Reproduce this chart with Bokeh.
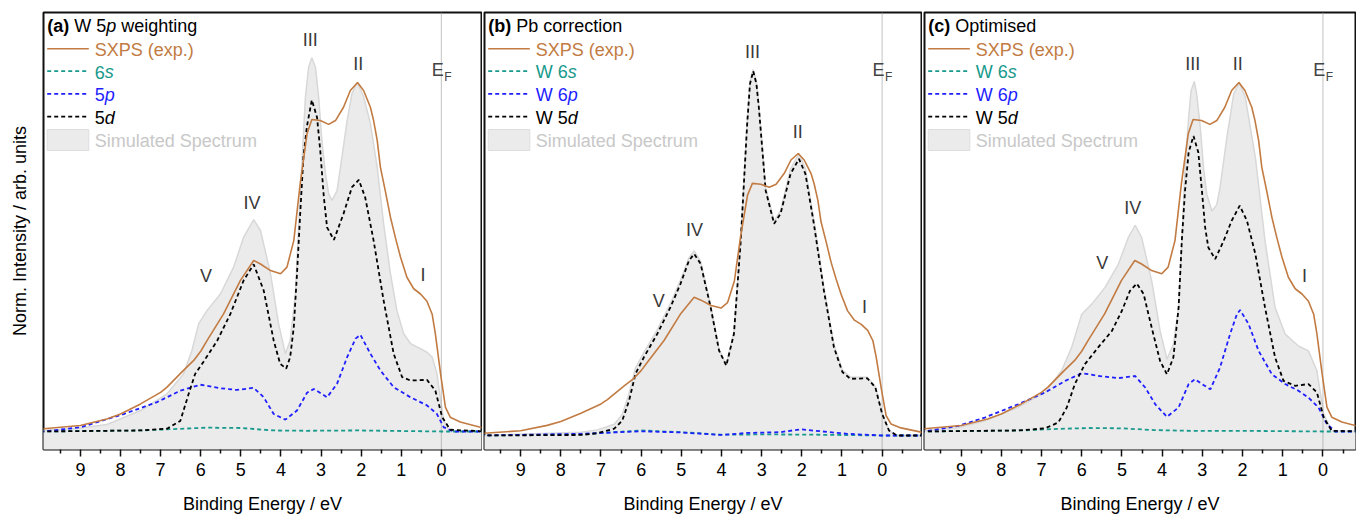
from bokeh.plotting import figure
from bokeh.models import Range1d, FixedTicker
from bokeh.layouts import row
from bokeh.core.properties import value
from bokeh.embed import file_html
from bokeh.resources import INLINE

# ---------------- data (binding energy in eV, normalised intensity) ----------------
sxps_E = [10.0, 9.92, 9.0, 8.34, 8.0, 7.5, 7.0, 6.84, 6.43, 6.18, 6.0, 5.84, 5.43, 5.01, 4.68, 4.51, 4.26, 4.01, 3.85, 3.68,
          3.52, 3.35, 3.23, 3.02, 2.81, 2.64, 2.44, 2.27, 2.09, 1.94, 1.77, 1.69, 1.60, 1.52, 1.40, 1.27, 1.15, 1.02, 0.86, 0.69,
          0.52, 0.36, 0.23, 0.15, 0.02, -0.1, -0.22, -0.47, -0.97, -1.1]
sxps_I = [0.007, 0.008, 0.017, 0.036, 0.05, 0.079, 0.112, 0.127, 0.175, 0.203, 0.23, 0.261, 0.337, 0.433, 0.49, 0.48, 0.461, 0.452, 0.471, 0.547,
          0.71, 0.853, 0.894, 0.891, 0.88, 0.891, 0.929, 0.977, 1.0, 0.977, 0.929, 0.891, 0.834, 0.757, 0.69, 0.614, 0.557, 0.5, 0.442, 0.409,
          0.394, 0.373, 0.336, 0.28, 0.165, 0.07, 0.041, 0.027, 0.012, 0.01]

# (a) W 5p weighting
a_sim_E = [10.0, 9.92, 9.0, 8.34, 7.5, 6.84, 6.43, 6.22, 6.05, 5.84, 5.51, 5.18, 4.93, 4.68, 4.51, 4.26, 4.06, 3.89, 3.77, 3.64,
           3.56, 3.47, 3.39, 3.31, 3.23, 3.14, 3.06, 2.98, 2.89, 2.81, 2.73, 2.60, 2.48, 2.35, 2.23, 2.10, 1.94, 1.77, 1.60, 1.44,
           1.27, 1.11, 0.94, 0.77, 0.52, 0.36, 0.23, 0.11, 0.02, -0.06, -0.18, -0.3, -1.1]
a_sim_I = [0.002, 0.003, 0.01, 0.02, 0.06, 0.108, 0.165, 0.232, 0.309, 0.347, 0.394, 0.471, 0.557, 0.607, 0.576, 0.452, 0.309, 0.223, 0.261, 0.394,
           0.585, 0.786, 0.958, 1.044, 1.071, 1.044, 0.958, 0.834, 0.738, 0.681, 0.662, 0.69, 0.786, 0.891, 0.968, 1.0, 0.96, 0.882, 0.757, 0.595,
           0.452, 0.347, 0.28, 0.252, 0.237, 0.227, 0.213, 0.165, 0.089, 0.031, 0.005, 0.0, 0.0]
a_d_E = [10.0, 7.5, 6.84, 6.51, 6.30, 6.14, 5.93, 5.59, 5.26, 4.93, 4.68, 4.43, 4.18, 4.02, 3.87, 3.77, 3.68, 3.60, 3.52, 3.44,
         3.35, 3.23, 3.10, 3.02, 2.93, 2.85, 2.68, 2.44, 2.23, 2.06, 1.90, 1.69, 1.44, 1.19, 0.98, 0.77, 0.36, 0.15, -0.02, -0.22, -1.1]
a_d_I = [0.0, 0.003, 0.008, 0.03, 0.108, 0.165, 0.2, 0.26, 0.337, 0.433, 0.479, 0.404, 0.26, 0.194, 0.18, 0.213, 0.299, 0.452, 0.624, 0.786,
         0.876, 0.95, 0.90, 0.805, 0.671, 0.585, 0.549, 0.624, 0.70, 0.721, 0.671, 0.547, 0.375, 0.223, 0.156, 0.146, 0.148, 0.117, 0.041, 0.005, 0.0]
a_p_E = [10.0, 9.92, 9.0, 7.92, 7.09, 6.51, 6.01, 5.51, 5.10, 4.68, 4.43, 4.18, 3.89, 3.60, 3.35, 3.18, 2.85, 2.60, 2.35, 2.14,
         2.02, 1.77, 1.52, 1.19, 0.77, 0.36, 0.11, -0.06, -0.31, -1.1]
a_p_I = [0.0, 0.0, 0.012, 0.05, 0.084, 0.117, 0.134, 0.124, 0.119, 0.125, 0.098, 0.05, 0.034, 0.06, 0.111, 0.122, 0.098, 0.137, 0.213, 0.266,
         0.277, 0.223, 0.175, 0.127, 0.098, 0.075, 0.05, 0.012, 0.0, 0.0]
a_s_E = [10.0, 7.5, 6.67, 5.84, 5.01, 4.18, 3.35, 2.1, 0.0, -1.1]
a_s_I = [0.0, 0.003, 0.007, 0.011, 0.01, 0.003, 0.002, 0.003, 0.0, 0.0]

# (b) Pb correction
b_grid = [10.0, 7.5, 7.09, 6.67, 6.47, 6.30, 6.14, 5.93, 5.60, 5.27, 5.02, 4.81, 4.68, 4.52, 4.27, 4.06, 3.88, 3.69, 3.52, 3.36,
          3.29, 3.21, 3.13, 3.07, 2.90, 2.69, 2.53, 2.28, 2.07, 1.91, 1.70, 1.45, 1.20, 0.99, 0.79, 0.37, 0.17, 0.0, -0.17, -0.37, -1.1]
b_sim_I = [0.0, 0.012, 0.02, 0.04, 0.075, 0.15, 0.24, 0.295, 0.375, 0.468, 0.55, 0.63, 0.655, 0.618, 0.462, 0.305, 0.252, 0.366, 0.698, 1.112,
           1.255, 1.298, 1.255, 1.172, 0.878, 0.76, 0.797, 0.945, 1.0, 0.945, 0.765, 0.525, 0.322, 0.232, 0.207, 0.207, 0.174, 0.078, 0.018, 0.0, 0.0]
b_d_I = [0.0, 0.002, 0.008, 0.024, 0.053, 0.124, 0.219, 0.278, 0.36, 0.455, 0.538, 0.62, 0.644, 0.609, 0.455, 0.301, 0.248, 0.36, 0.691, 1.105,
         1.247, 1.292, 1.247, 1.164, 0.869, 0.751, 0.786, 0.928, 0.981, 0.928, 0.751, 0.514, 0.313, 0.225, 0.201, 0.203, 0.171, 0.077, 0.018, 0.0, 0.0]
b_p_E = [10.0, 7.5, 6.01, 5.02, 4.02, 3.36, 2.53, 2.03, 1.53, 0.87, 0.0, -1.1]
b_p_I = [0.0, 0.006, 0.015, 0.011, 0.002, 0.009, 0.012, 0.022, 0.015, 0.006, 0.0, 0.0]
b_s_E = [10.0, 7.5, 6.01, 5.02, 4.02, 2.9, 1.7, 0.0, -1.1]
b_s_I = [0.0, 0.004, 0.018, 0.012, 0.003, 0.004, 0.003, 0.0, 0.0]

# (c) Optimised
c_sim_E = [10.0, 9.9, 9.07, 8.41, 7.58, 6.91, 6.50, 6.25, 6.0, 5.75, 5.42, 5.09, 4.84, 4.67, 4.51, 4.26, 4.05, 3.88, 3.72, 3.59,
           3.51, 3.43, 3.34, 3.28, 3.20, 3.14, 3.05, 2.97, 2.89, 2.76, 2.64, 2.56, 2.39, 2.22, 2.08, 1.93, 1.68, 1.44, 1.19, 0.94,
           0.61, 0.36, 0.15, -0.02, -0.22, -1.1]
c_sim_I = [0.002, 0.002, 0.011, 0.031, 0.069, 0.112, 0.174, 0.241, 0.336, 0.365, 0.413, 0.479, 0.556, 0.591, 0.556, 0.432, 0.288, 0.207, 0.25, 0.355,
           0.546, 0.756, 0.9, 0.976, 1.003, 0.967, 0.871, 0.756, 0.68, 0.632, 0.65, 0.699, 0.842, 0.967, 1.0, 0.957, 0.785, 0.546, 0.355, 0.279,
           0.245, 0.231, 0.174, 0.05, 0.002, 0.0]
c_d_E = [10.0, 7.58, 6.91, 6.58, 6.37, 6.17, 5.92, 5.59, 5.25, 5.0, 4.80, 4.63, 4.46, 4.26, 4.05, 3.88, 3.72, 3.59, 3.51, 3.43,
         3.34, 3.22, 3.10, 3.01, 2.93, 2.85, 2.68, 2.47, 2.27, 2.07, 1.89, 1.68, 1.44, 1.19, 0.98, 0.69, 0.36, 0.15, -0.02, -0.22, -1.1]
c_d_I = [0.0, 0.003, 0.009, 0.026, 0.069, 0.136, 0.193, 0.241, 0.288, 0.346, 0.403, 0.424, 0.394, 0.298, 0.202, 0.164, 0.212, 0.355, 0.546, 0.69,
         0.80, 0.847, 0.80, 0.69, 0.585, 0.527, 0.494, 0.546, 0.604, 0.647, 0.604, 0.508, 0.355, 0.212, 0.145, 0.131, 0.136, 0.112, 0.04, 0.002, 0.0]
c_p_E = [10.0, 9.9, 9.07, 8.41, 7.58, 6.91, 6.41, 6.0, 5.50, 5.09, 4.67, 4.42, 4.17, 3.88, 3.59, 3.34, 3.18, 3.01, 2.80, 2.56,
         2.31, 2.14, 2.06, 1.85, 1.60, 1.27, 0.94, 0.61, 0.36, 0.11, -0.10, -0.31, -1.1]
c_p_I = [0.0, 0.0, 0.016, 0.04, 0.078, 0.112, 0.145, 0.167, 0.158, 0.153, 0.159, 0.126, 0.078, 0.042, 0.069, 0.136, 0.15, 0.136, 0.121, 0.183,
         0.279, 0.336, 0.348, 0.308, 0.231, 0.164, 0.136, 0.117, 0.097, 0.069, 0.021, 0.0, 0.0]
c_s_E = [10.0, 7.5, 6.7, 5.8, 5.0, 4.2, 3.3, 2.1, 0.0, -1.1]
c_s_I = [0.0, 0.003, 0.007, 0.01, 0.009, 0.004, 0.002, 0.002, 0.0, 0.0]

# peak labels (text, energy, intensity)
peak_text = ["III", "II", "IV", "V", "I"]
a_peak_E = [3.27, 2.07, 4.72, 5.87, 0.46]
a_peak_I = [1.122, 1.053, 0.654, 0.445, 0.447]
b_peak_E = [3.23, 2.10, 4.67, 5.56, 0.44]
b_peak_I = [1.359, 1.076, 0.729, 0.476, 0.455]
c_peak_E = [3.24, 2.12, 4.73, 5.49, 0.46]
c_peak_I = [1.054, 1.053, 0.639, 0.484, 0.446]

major_ticks = [0, 1, 2, 3, 4, 5, 6, 7, 8, 9]
minor_ticks = [-0.5, 0.5, 1.5, 2.5, 3.5, 4.5, 5.5, 6.5, 7.5, 8.5, 9.5]

# ---------------- style ----------------
FONT = "Liberation Sans"
FS = 18
ORANGE = "#c27b42"
TEAL = "#17998c"
BLUE = "#1f1fff"
BLACK = "#000000"
SIM_FILL = "#ebebeb"
SIM_LINE = "#d8d8d8"
SIM_TEXT = "#c8c8c8"
LABEL_C = "#383838"
FH = 437
DASH = "4 3"
LW = 1.8
PAGE = 8  # page margin compensation

AW = {' ': 278, '(': 333, ')': 333, '.': 278, '/': 278, 'a': 556, 'b': 556, 'c': 500, 'd': 556, 'e': 556, 'g': 556,
      'h': 556, 'i': 222, 'l': 222, 'm': 833, 'n': 556, 'o': 556, 'p': 556, 'r': 333, 's': 500, 't': 278, 'u': 556,
      'w': 722, 'x': 500, 'y': 500, 'W': 944, 'P': 667, 'S': 667, 'X': 667, 'O': 778}
AWB = {'(': 333, ')': 333, 'a': 556, 'b': 611, 'c': 556}


def tw(s, style):
    tbl = AWB if style == "bold" else AW
    return sum(tbl.get(ch, 556) for ch in s) * FS / 1000.0


def rich(p, x0, y0, segs, color):
    x = x0
    sp = 278 * FS / 1000.0
    for txt, style in segs:
        lead = len(txt) - len(txt.lstrip(" "))
        trail = len(txt) - len(txt.rstrip(" "))
        core = txt.strip(" ")
        x += lead * sp
        p.text(x=[x], y=[y0], text=[core], x_range_name="px", y_range_name="px",
               text_font=value(FONT), text_font_size=value(f"{FS}px"), text_font_style=value(style),
               text_color=color, text_align=value("left"), text_baseline=value("middle"))
        x += tw(core, style) + trail * sp


def make_panel(xr, yr, fw, bl, br, ylabel, sim, comps, title, legend, peaks):
    p = figure(frame_width=fw, frame_height=FH, x_range=Range1d(*xr), y_range=Range1d(*yr),
               output_backend="svg", toolbar_location=None,
               min_border_left=bl, min_border_right=br, min_border_top=4 + PAGE, min_border_bottom=64)
    p.extra_x_ranges = {"px": Range1d(0, fw)}
    p.extra_y_ranges = {"px": Range1d(FH, 0)}
    p.grid.visible = False
    p.outline_line_color = "#111111"
    p.outline_line_width = 2
    p.outline_line_alpha = 1.0

    ax = p.xaxis[0]
    ax.ticker = FixedTicker(ticks=major_ticks, minor_ticks=minor_ticks)
    ax.axis_line_color = None
    ax.major_tick_in = 0
    ax.major_tick_out = 7
    ax.minor_tick_in = 0
    ax.minor_tick_out = 4
    ax.major_tick_line_width = 1.5
    ax.minor_tick_line_width = 1.5
    ax.major_tick_line_color = "#111111"
    ax.minor_tick_line_color = "#111111"
    ax.major_label_text_font = FONT
    ax.major_label_text_font_size = f"{FS}px"
    ax.major_label_text_color = "black"
    ax.major_label_standoff = 6
    ax.axis_label = "Binding Energy / eV"
    ax.axis_label_text_font = FONT
    ax.axis_label_text_font_size = f"{FS}px"
    ax.axis_label_text_font_style = "normal"
    ax.axis_label_text_color = "black"
    ax.axis_label_standoff = 15

    ay = p.yaxis[0]
    if ylabel:
        ay.ticker = FixedTicker(ticks=[])
        ay.axis_line_color = None
        ay.major_tick_line_color = None
        ay.minor_tick_line_color = None
        ay.axis_label = ylabel
        ay.axis_label_text_font = FONT
        ay.axis_label_text_font_size = f"{FS}px"
        ay.axis_label_text_font_style = "normal"
        ay.axis_label_text_color = "black"
        ay.axis_label_standoff = 14
    else:
        ay.visible = False

    sE, sI = sim
    p.varea(x=sE, y1=[yr[0] - 1.0] * len(sE), y2=sI, fill_color=SIM_FILL)
    p.line(sE, sI, line_color=SIM_LINE, line_width=1.5)
    # Fermi level marker
    p.segment(x0=[0], x1=[0], y0=[0], y1=[FH], y_range_name="px",
              line_color="#999999", line_width=1.2, line_dash="1 1")

    for (E, I, col) in comps:
        p.line(E, I, line_color=col, line_width=LW, line_dash=DASH)
    p.line(sxps_E, sxps_I, line_color=ORANGE, line_width=1.6)

    # peak labels
    pE, pI = peaks
    p.text(x=pE, y=pI, text=peak_text, text_font=value(FONT), text_font_size=value(f"{FS}px"),
           text_color=LABEL_C, text_align=value("center"), text_baseline=value("middle"))
    # E_F label
    p.text(x=[0.09], y=[57.3], y_range_name="px", text=["E"], text_font=value(FONT),
           text_font_size=value(f"{FS}px"), text_color="#444444", text_align=value("center"),
           text_baseline=value("middle"))
    p.text(x=[-0.16], y=[64.0], y_range_name="px", text=["F"], text_font=value(FONT),
           text_font_size=value("12px"), text_color="#444444", text_align=value("center"),
           text_baseline=value("middle"))

    # title and legend (drawn in frame pixel coordinates)
    rich(p, 3.7, 13.7, title, "black")
    rows_y = [36.3, 58.6, 81.3, 104.2]
    for (kind, col, segs, tcol), yy in zip(legend[:4], rows_y):
        p.line([3.7, 45.3], [yy, yy], x_range_name="px", y_range_name="px", line_color=col,
               line_width=(1.6 if kind == "solid" else LW), line_dash=("solid" if kind == "solid" else DASH))
        rich(p, 51.3, yy + 1, segs, tcol)
    p.quad(left=[3.7], right=[45.3], top=[117], bottom=[138], x_range_name="px", y_range_name="px",
           fill_color=SIM_FILL, line_color="#dedede", line_width=1)
    rich(p, 51.3, 128.5, legend[4][2], legend[4][3])
    return p


def legend_rows(prefix_s, prefix_p, prefix_d):
    return [
        ("solid", ORANGE, [("SXPS (exp.)", "normal")], ORANGE),
        ("dash", TEAL, [(prefix_s, "normal"), ("s", "italic")], TEAL),
        ("dash", BLUE, [(prefix_p, "normal"), ("p", "italic")], BLUE),
        ("dash", BLACK, [(prefix_d, "normal"), ("d", "italic")], BLACK),
        ("box", SIM_FILL, [("Simulated Spectrum", "normal")], SIM_TEXT),
    ]


pa = make_panel((9.92, -1.0), (-0.0516, 1.2006), 438, 35 + PAGE, 1, "Norm. Intensity / arb. units",
                (a_sim_E, a_sim_I),
                [(a_s_E, a_s_I, TEAL), (a_p_E, a_p_I, BLUE), (a_d_E, a_d_I, BLACK)],
                [("(a)", "bold"), (" W 5", "normal"), ("p", "italic"), (" weighting", "normal")],
                legend_rows("6", "5", "5"), (a_peak_E, a_peak_I))
pb = make_panel((9.9, -0.98), (-0.0496, 1.5), 437, 2, 1, None,
                (b_grid, b_sim_I),
                [(b_s_E, b_s_I, TEAL), (b_p_E, b_p_I, BLUE), (b_grid, b_d_I, BLACK)],
                [("(b)", "bold"), (" Pb correction", "normal")],
                legend_rows("W 6", "W 6", "W 5"), (b_peak_E, b_peak_I))
pc = make_panel((9.91, -0.81), (-0.0516, 1.2006), 431, 2, 1, None,
                (c_sim_E, c_sim_I),
                [(c_s_E, c_s_I, TEAL), (c_p_E, c_p_I, BLUE), (c_d_E, c_d_I, BLACK)],
                [("(c)", "bold"), (" Optimised", "normal")],
                legend_rows("W 6", "W 6", "W 5"), (c_peak_E, c_peak_I))

layout = row(pa, pb, pc, spacing=0)
open("out.html", "w").write(file_html(layout, INLINE))
